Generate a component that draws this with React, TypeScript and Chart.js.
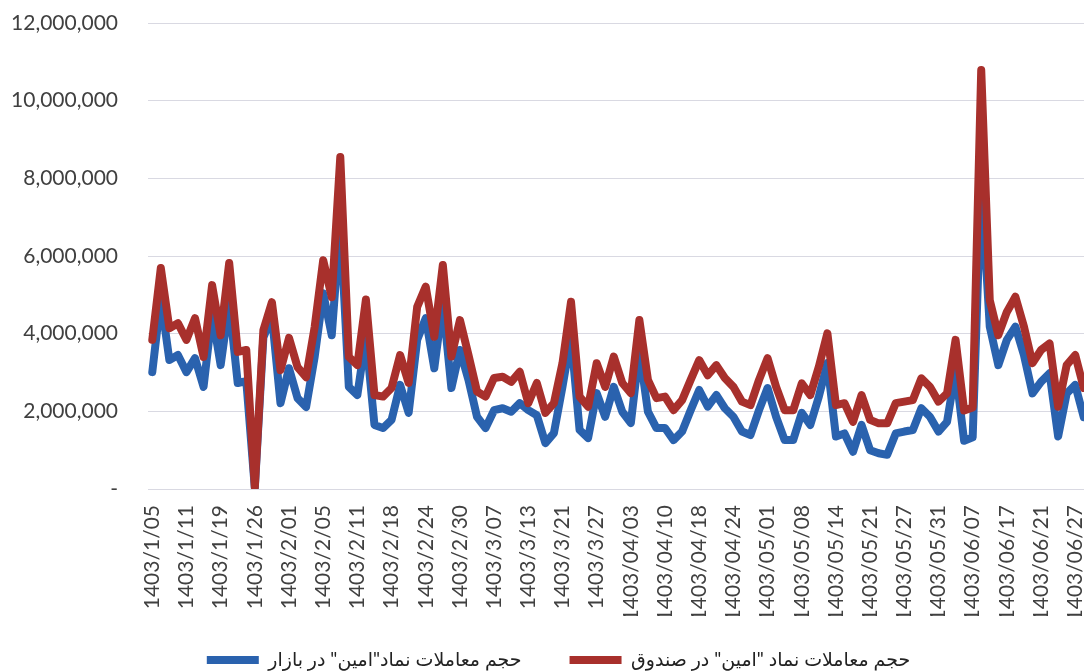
import React, { useEffect, useRef } from "react";
import { Chart, registerables } from "chart.js";

Chart.register(...registerables);

const tickLabels = [
  "1403/1/05", "1403/1/11", "1403/1/19", "1403/1/26", "1403/2/01", "1403/2/05", "1403/2/11",
  "1403/2/18", "1403/2/24", "1403/2/30", "1403/3/07", "1403/3/13", "1403/3/21", "1403/3/27",
  "1403/04/03", "1403/04/10", "1403/04/18", "1403/04/24", "1403/05/01", "1403/05/08", "1403/05/14",
  "1403/05/21", "1403/05/27", "1403/05/31", "1403/06/07", "1403/06/17", "1403/06/21", "1403/06/27",
];

// حجم معاملات نماد "امین" در صندوق (millions)
const fundVolume = [
  3.84, 5.69, 4.14, 4.27, 3.84, 4.40, 3.40, 5.25, 3.96, 5.82,
  3.53, 3.58, 0.05, 4.09, 4.81, 3.06, 3.89, 3.14, 2.88, 4.17,
  5.89, 4.94, 8.55, 3.40, 3.19, 4.88, 2.42, 2.38, 2.60, 3.45,
  2.73, 4.69, 5.21, 3.92, 5.77, 3.41, 4.35, 3.45, 2.51, 2.38,
  2.86, 2.89, 2.76, 3.02, 2.21, 2.73, 1.96, 2.21, 3.24, 4.82,
  2.38, 2.12, 3.24, 2.63, 3.41, 2.73, 2.47, 4.35, 2.81, 2.34,
  2.38, 2.03, 2.29, 2.81, 3.32, 2.93, 3.19, 2.86, 2.63, 2.25,
  2.16, 2.81, 3.37, 2.63, 2.03, 2.03, 2.72, 2.42, 3.15, 4.01,
  2.16, 2.21, 1.73, 2.42, 1.78, 1.69, 1.69, 2.21, 2.25, 2.29,
  2.85, 2.63, 2.25, 2.46, 3.84, 2.02, 2.10, 10.79, 4.86, 3.96,
  4.56, 4.95, 4.18, 3.24, 3.58, 3.75, 2.12, 3.19, 3.45, 2.60,
];

// حجم معاملات نماد"امین" در بازار (millions)
const marketVolume = [
  3.01, 4.92, 3.32, 3.45, 3.01, 3.37, 2.63, 4.53, 3.19, 4.79,
  2.73, 2.78, 0.03, 3.90, 4.45, 2.21, 3.11, 2.34, 2.11, 3.40,
  5.04, 3.96, 6.90, 2.63, 2.42, 3.94, 1.65, 1.57, 1.78, 2.68,
  1.96, 3.84, 4.40, 3.11, 4.82, 2.60, 3.58, 2.81, 1.86, 1.57,
  2.03, 2.08, 1.99, 2.21, 2.03, 1.90, 1.18, 1.44, 2.63, 3.92,
  1.52, 1.31, 2.47, 1.86, 2.63, 1.99, 1.70, 3.58, 1.99, 1.57,
  1.57, 1.26, 1.48, 2.03, 2.55, 2.12, 2.42, 2.08, 1.86, 1.48,
  1.39, 2.03, 2.60, 1.86, 1.26, 1.26, 1.96, 1.65, 2.38, 3.24,
  1.35, 1.43, 0.96, 1.65, 1.00, 0.92, 0.88, 1.43, 1.48, 1.52,
  2.08, 1.86, 1.48, 1.73, 3.06, 1.24, 1.33, 7.90, 4.18, 3.19,
  3.84, 4.18, 3.45, 2.46, 2.76, 2.98, 1.35, 2.46, 2.68, 1.85,
];

const seriesNames = ['حجم معاملات نماد "امین" در صندوق', 'حجم معاملات نماد"امین" در بازار'];
const yTicks = [0, 2000000, 4000000, 6000000, 8000000, 10000000, 12000000];

const categories = fundVolume.map((_, i) => (i % 4 === 0 && tickLabels[i / 4]) ? tickLabels[i / 4] : "");

const PLOT_BOTTOM = 489;
const LEGEND_TEXT_Y = 660;
const LEGEND_PAD = 48;
const LEGEND_FONT = 19;
const LEGEND_MAX_H = 56;

const legendShift = {
  id: "legendShift",
  afterLayout(chart: any) {
    const l = chart.legend;
    if (!l) return;
    const target = LEGEND_TEXT_Y - LEGEND_FONT / 2 - LEGEND_PAD;
    l.top = target;
    l.bottom = chart.height;
    l.height = chart.height - target;
  },
};

export default function App() {
  const ref = useRef<HTMLCanvasElement | null>(null);

  useEffect(() => {
    if (!ref.current) return;
    const chart = new Chart(ref.current, {
      type: "line",
      data: {
        labels: categories,
        datasets: [
          {
            label: seriesNames[0],
            data: fundVolume.map((v) => v * 1e6),
            borderColor: "#a8302c",
            backgroundColor: "#a8302c",
            borderWidth: 8,
            pointRadius: 0,
            tension: 0,
            borderJoinStyle: "round",
            borderCapStyle: "round",
          },
          {
            label: seriesNames[1],
            data: marketVolume.map((v) => v * 1e6),
            borderColor: "#2a62ae",
            backgroundColor: "#2a62ae",
            borderWidth: 8,
            pointRadius: 0,
            tension: 0,
            borderJoinStyle: "round",
            borderCapStyle: "round",
          },
        ],
      },
      plugins: [legendShift],
      options: {
        responsive: false,
        animation: false,
        layout: { padding: { top: 23, left: 0, right: 8, bottom: 0 } },
        plugins: {
          tooltip: { enabled: false },
          legend: {
            position: "bottom",
            textDirection: "rtl",
            maxHeight: LEGEND_MAX_H,
            labels: {
              sort: (a: any, b: any) => b.datasetIndex - a.datasetIndex,
              usePointStyle: true,
              pointStyle: "line",
              pointStyleWidth: 52,
              boxHeight: LEGEND_FONT,
              padding: LEGEND_PAD,
              color: "#222222",
              font: { family: 'Lato, "DejaVu Sans", sans-serif', size: LEGEND_FONT },
            },
          },
        },
        scales: {
          x: {
            type: "category",
            offset: true,
            grid: { display: false, drawTicks: false },
            border: { display: false },
            afterFit: (scale: any) => {
              const lh = scale.chart.legend ? scale.chart.legend.height : 0;
              scale.height = scale.chart.height - PLOT_BOTTOM - lh;
            },
            ticks: {
              autoSkip: false,
              maxRotation: 90,
              minRotation: 90,
              padding: 16,
              color: "#404040",
              font: { family: "Lato", size: 21 },
            },
          },
          y: {
            min: 0,
            max: 12000000,
            afterFit: (scale: any) => {
              scale.width = 148;
            },
            afterBuildTicks: (scale: any) => {
              scale.ticks = yTicks.map((v) => ({ value: v }));
            },
            grid: { color: "#d9d9e2", lineWidth: 1, drawTicks: true, tickLength: 27, tickColor: "rgba(0,0,0,0)" },
            border: { display: false },
            ticks: {
              padding: 3,
              color: "#404040",
              font: { family: "Lato", size: 21 },
              callback: (v: any) => (Number(v) === 0 ? "-\u2800" : Number(v).toLocaleString("en-US")),
            },
          },
        },
      },
    });
    return () => chart.destroy();
  }, []);

  return (
    <div style={{ position: "fixed", left: 0, top: 0, width: 1084, height: 672, overflow: "hidden", background: "#fff" }}>
      <canvas ref={ref} width={1125} height={672} style={{ width: 1125, height: 672, display: "block" }} />
    </div>
  );
}
